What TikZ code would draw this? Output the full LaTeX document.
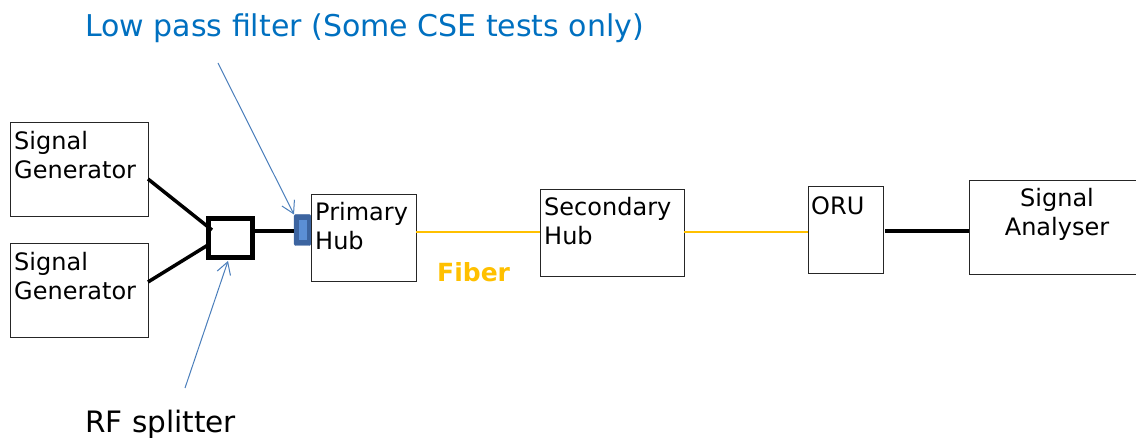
\documentclass[tikz,border=0pt]{standalone}
\usepackage{fontspec}
\setmainfont{DejaVu Sans}
\usetikzlibrary{arrows.meta}
\definecolor{callout}{HTML}{0070C0}
\definecolor{arrowblue}{HTML}{4A7EBB}
\definecolor{fiber}{HTML}{FFC000}
\definecolor{filterdark}{HTML}{3C64A0}
\definecolor{filterlight}{HTML}{5B8FD6}
\tikzset{
  box/.style={draw=black!85, line width=1pt, inner sep=0pt, outer sep=0pt, anchor=north west},
  boxtext/.style={anchor=north west, align=left, inner sep=0pt, font=\fontsize{24}{29}\selectfont},
  thickwire/.style={line width=4pt, black},
  fiberline/.style={fiber, line width=1.2pt},
  pointer/.style={arrowblue, line width=1pt, -{Straight Barb[length=12pt, width=14pt, line width=1pt]}},
}
\begin{document}
\begin{tikzpicture}[x=1pt,y=-1pt]
\useasboundingbox (0,0) rectangle (1136,438);
% boxes
\node[box, minimum width=138pt, minimum height=94pt] (sg1) at (10,123) {};
\node[boxtext] (sg1t) at (14,131) {Signal\\Generator};
\node[box, minimum width=138pt, minimum height=94pt] (sg2) at (10,244) {};
\node[boxtext] (sg2t) at (14,252) {Signal\\Generator};
\node[box, line width=5pt, draw=black, minimum width=44pt, minimum height=39pt] (split) at (208.5,218.5) {};
\node[draw=filterdark, fill=filterdark, rounded corners=2pt, minimum width=17pt, minimum height=31pt, inner sep=0pt, outer sep=0pt, anchor=north west] (lpf) at (294,214.5) {};
\node[fill=filterlight, minimum width=8pt, minimum height=20pt, inner sep=0pt] (lpfin) at (lpf.center) {};
\node[box, minimum width=105pt, minimum height=87pt] (ph) at (311,195) {};
\node[boxtext] (pht) at (315,202) {Primary\\Hub};
\node[box, minimum width=144pt, minimum height=87pt] (sh) at (540,190) {};
\node[boxtext] (sht) at (544,197) {Secondary\\Hub};
\node[box, minimum width=75pt, minimum height=87pt] (oru) at (808,187) {};
\node[boxtext] (orut) at (811,196) {ORU};
\node[box, minimum width=180pt, minimum height=94pt] (sa) at (969,181) {};
\node[anchor=north, align=center, inner sep=0pt, font=\fontsize{24}{29}\selectfont] (sat) at (1057,188) {Signal\\Analyser};
% labels
\node[anchor=west, inner sep=0pt, text=callout, font=\fontsize{30}{36}\selectfont] (lpflabel) at (85,28) {Low pass filter (Some CSE tests only)};
\node[anchor=west, inner sep=0pt, font=\fontsize{29.5}{36}\selectfont] (rflabel) at (85,424) {RF splitter};
\node[anchor=west, inner sep=0pt, text=fiber, font=\bfseries\fontsize{25}{30}\selectfont] (fiberlabel) at (437,272) {Fiber};
% wires
\coordinate (sj1) at (212,230);
\coordinate (sj2) at (208,245);
\draw[line width=3.5pt] (sg1.east |- 0,179) -- (sj1);
\draw[line width=3.5pt] (sg2.east |- 0,282) -- (sj2);
\draw[thickwire] (split.east |- 0,231.5) -- (lpf.west |- 0,231.5);
\draw[fiberline] (ph.east |- 0,232) -- (sh.west |- 0,232);
\draw[fiberline] (sh.east |- 0,232) -- (oru.west |- 0,232);
\draw[thickwire] (885,231) -- (sa.west |- 0,231);
% pointers
\coordinate (lpfstart) at (218,63);
\coordinate (rfstart) at (185,388);
\draw[pointer] (lpfstart) -- (lpf.north west);
\draw[pointer] (rfstart) -- (228,261);
\end{tikzpicture}
\end{document}
